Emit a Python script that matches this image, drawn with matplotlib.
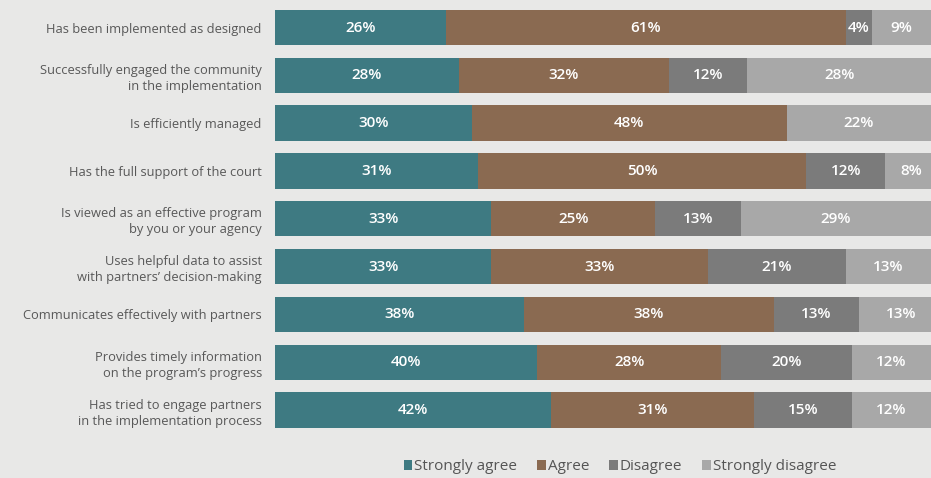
import numpy as np
import matplotlib.pyplot as plt
from matplotlib.patches import Patch

# Survey statements (top to bottom) and response shares in percent
statements = [
    "Has been implemented as designed",
    "Successfully engaged the community\nin the implementation",
    "Is efficiently managed",
    "Has the full support of the court",
    "Is viewed as an effective program\nby you or your agency",
    "Uses helpful data to assist\nwith partners\u2019 decision-making",
    "Communicates effectively with partners",
    "Provides timely information\non the program\u2019s progress",
    "Has tried to engage partners\nin the implementation process",
]
strongly_agree = [26, 28, 30, 31, 33, 33, 38, 40, 42]
agree = [61, 32, 48, 50, 25, 33, 38, 28, 31]
disagree = [4, 12, 0, 12, 13, 21, 13, 20, 15]
strongly_disagree = [9, 28, 22, 8, 29, 13, 13, 12, 12]

responses = ["Strongly agree", "Agree", "Disagree", "Strongly disagree"]
colors = ["#3e7a82", "#8a6a51", "#7b7b7b", "#a8a8a8"]
bg = "#e8e8e7"

plt.rcParams["font.family"] = ["Open Sans", "DejaVu Sans"]

fig = plt.figure(figsize=(9.31, 4.78), dpi=100, facecolor=bg)
ax = fig.add_axes([275 / 931, 1 - 434 / 478, 656 / 931, 430.4 / 478])
ax.set_facecolor(bg)

y = np.arange(len(statements))
left = np.zeros(len(statements))
series = [strongly_agree, agree, disagree, strongly_disagree]
for vals, color in zip(series, colors):
    vals = np.array(vals, dtype=float)
    ax.barh(y, vals, left=left, height=0.74, color=color, edgecolor="none")
    for yi, l, v in zip(y, left, vals):
        if v > 0:
            ax.text(l + v / 2, yi, f"{int(v)}%", ha="center", va="center",
                    color="white", fontsize=11, fontweight="semibold")
    left += vals

ax.set_xlim(0, 100)
ax.set_ylim(len(statements) - 0.5, -0.5)
ax.set_yticks(y)
ax.set_yticklabels(statements, fontsize=9.3, color="#585858", linespacing=1.3)
ax.tick_params(axis="y", length=0, pad=9.5)
ax.set_xticks([])
for s in ax.spines.values():
    s.set_visible(False)

handles = [Patch(facecolor=c, edgecolor="none") for c in colors]
fig.legend(handles, responses, loc="center", bbox_to_anchor=(620 / 931, 1 - 467 / 478),
           ncol=4, frameon=False, fontsize=11, handlelength=0.55, handleheight=0.55,
           handletextpad=0.15, columnspacing=1.3, labelcolor="#555555")

fig.savefig("out.png", dpi=100, facecolor=bg)
